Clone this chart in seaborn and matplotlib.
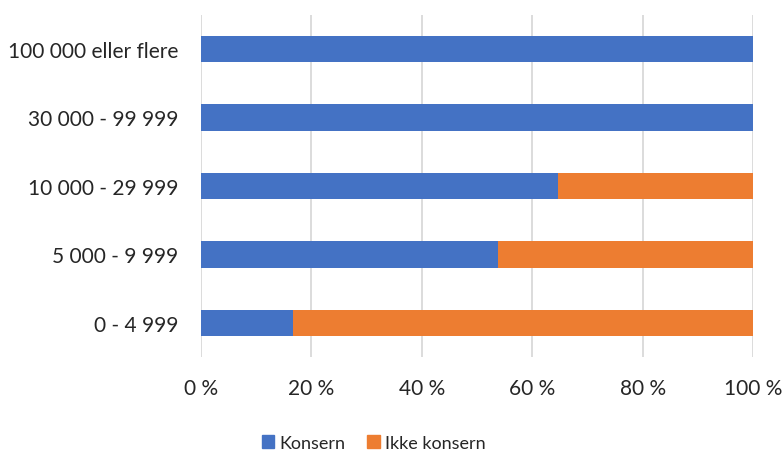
import matplotlib
matplotlib.use("Agg")
import matplotlib.pyplot as plt
import matplotlib.patches as mpatches
from matplotlib.ticker import FuncFormatter
import seaborn as sns
import pandas as pd

categories = ["100 000 eller flere", "30 000 - 99 999", "10 000 - 29 999", "5 000 - 9 999", "0 - 4 999"]
konsern = [100.0, 100.0, 64.7, 53.9, 16.7]
ikke_konsern = [0.0, 0.0, 35.3, 46.1, 83.3]
series_names = ["Konsern", "Ikke konsern"]

blue = "#4472C4"
orange = "#ED7D31"
text_color = "#262626"

sns.set_theme(style="white")
plt.rcParams["font.family"] = ["Lato", "DejaVu Sans"]

df = pd.DataFrame({
    "kategori": categories,
    "Konsern": konsern,
    "Ikke konsern": ikke_konsern,
})
df["total"] = df["Konsern"] + df["Ikke konsern"]

fig = plt.figure(figsize=(7.82, 4.52), dpi=100)
ax = fig.add_axes([0.2567, 0.2074, 0.7063, 0.7578])

sns.barplot(data=df, x="total", y="kategori", order=categories, color=orange,
            width=0.39, ax=ax, saturation=1, edgecolor="none", zorder=3)
sns.barplot(data=df, x="Konsern", y="kategori", order=categories, color=blue,
            width=0.39, ax=ax, saturation=1, edgecolor="none", zorder=3)

ax.set_xlim(0, 100)
ax.set_ylim(4.5, -0.5)
ax.set_xticks([0, 20, 40, 60, 80, 100])
ax.xaxis.set_major_formatter(FuncFormatter(lambda v, p: f"{int(v)} %"))
ax.grid(axis="x", color="#d9d9d9", linewidth=1.3, zorder=0)
ax.grid(axis="y", visible=False)
for s in ax.spines.values():
    s.set_visible(False)
ax.set_xlabel("")
ax.set_ylabel("")
ax.tick_params(axis="both", length=0, labelsize=15, colors=text_color)
ax.tick_params(axis="x", pad=15)
ax.tick_params(axis="y", pad=16)

handles = [mpatches.Patch(color=blue, label=series_names[0]),
           mpatches.Patch(color=orange, label=series_names[1])]
fig.legend(handles=handles, loc="center", bbox_to_anchor=(0.478, 0.018), ncol=2,
           frameon=False, fontsize=13, handlelength=0.7, handleheight=0.7,
           handletextpad=0.3, columnspacing=1.2, labelcolor=text_color)

fig.savefig("out.png", dpi=100)
